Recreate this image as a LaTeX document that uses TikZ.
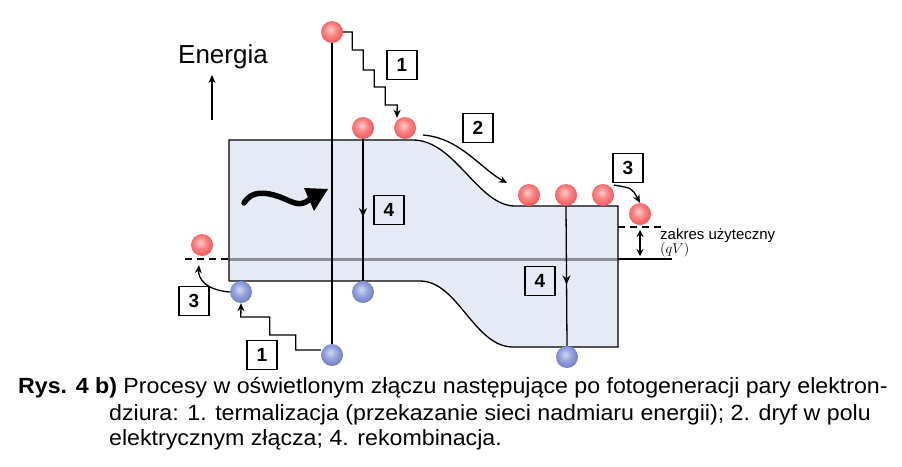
\documentclass[tikz,border=0pt]{standalone}
\usepackage{fontspec}
\setmainfont{Liberation Sans}
\usetikzlibrary{arrows.meta,calc,decorations.markings,shadings}
\definecolor{bandfill}{RGB}{230,234,246}
\definecolor{fermi}{RGB}{140,142,152}
\pgfdeclareradialshading{redsph}{\pgfpoint{-4bp}{6bp}}{%
  color(0bp)=(rgb,255:red,255;green,205;blue,205);
  color(14bp)=(rgb,255:red,250;green,130;blue,130);
  color(34bp)=(rgb,255:red,238;green,72;blue,72);
  color(52bp)=(rgb,255:red,205;green,40;blue,45);
  color(70bp)=(rgb,255:red,190;green,35;blue,40)}
\pgfdeclareradialshading{bluesph}{\pgfpoint{-4bp}{6bp}}{%
  color(0bp)=(rgb,255:red,210;green,218;blue,242);
  color(14bp)=(rgb,255:red,150;green,162;blue,220);
  color(34bp)=(rgb,255:red,98;green,110;blue,188);
  color(52bp)=(rgb,255:red,62;green,72;blue,150);
  color(70bp)=(rgb,255:red,55;green,65;blue,140)}
\tikzset{
  tip/.style={-{Stealth[length=8pt,width=7pt]}},
  electron/.style={circle,minimum size=22pt,inner sep=0pt,shading=redsph},
  hole/.style={circle,minimum size=22pt,inner sep=0pt,shading=bluesph},
  numbox/.style={draw,line width=1.3pt,minimum width=30pt,minimum height=29pt,inner sep=0pt,font=\fontsize{19}{19}\selectfont\bfseries},
  thin/.style={line width=1.3pt},
  dashline/.style={line width=1.3pt,dash pattern=on 7pt off 5pt},
  capt/.style={anchor=base west,inner sep=0pt,font=\fontsize{22}{22}\selectfont},
  midarrow/.style={decoration={markings,mark=at position #1 with {\arrow{Stealth[length=9pt,width=8pt]}}},postaction={decorate}}
}
\begin{document}
\begin{tikzpicture}[x=1pt,y=-1pt]
\useasboundingbox (0,0) rectangle (902,466);
% band
\fill[bandfill] (229,140) -- (413,140) .. controls (455,140) and (478,206) .. (515,206) -- (618,206) -- (618,347) -- (513,347) .. controls (474,347) and (458,281) .. (420,281) -- (229,281) -- cycle;
\draw[fermi,line width=3pt] (229,259) -- (618,259);
\draw[thin] (229,281) -- (229,140) -- (413,140) .. controls (455,140) and (478,206) .. (515,206) -- (618,206) -- (618,347) -- (513,347) .. controls (474,347) and (458,281) .. (420,281) -- (229,281);
\draw[dashline] (185,259) -- (229,259);
\draw[dashline] (618,227) -- (664,227);
\draw[thin] (618,259) -- (672,259);
% energy
\node[font=\fontsize{26}{26}\selectfont] (en) at (223,57) {Energia};
\coordinate (ea) at (212,120);
\coordinate (eb) at (212,75);
\draw[thin,tip] (ea) -- (eb);
% particles
\node[electron] (eTop) at (332,32) {};
\node[electron] (e2) at (363,128) {};
\node[electron] (e3) at (405,128) {};
\node[electron] (r1) at (529,195) {};
\node[electron] (r2) at (566,195) {};
\node[electron] (r3) at (603,195) {};
\node[electron] (rF) at (640,214) {};
\node[electron] (eL) at (202,245) {};
\node[hole] (h1) at (241,292) {};
\node[hole] (h2) at (363,292) {};
\node[hole] (hB) at (332,355) {};
\node[hole] (hR) at (567,357) {};
% verticals
\draw[thin] (eTop.south) -- (hB.north);
\draw[thin,midarrow=0.55] (e2.south) -- (h2.north);
\draw[thin,midarrow=0.56] (r2.south) -- (hR.north);
% staircases
\draw[thin,tip] (eTop.east) -- ++(9,0) -- ++(0,18) -- ++(11,0) -- ++(0,20) -- ++(11,0) -- ++(0,17) -- ++(11,0) -- ++(0,18) -- ++(12,0) -- ($(e3.north)+(-8,1)$);
\draw[thin,tip] (hB.west) ++(0,-5) -- ++(-25,0) -- ++(0,-15) -- ++(-26,0) -- ++(0,-18) -- ++(-29,0) -- (h1.south);
% drift arrow
\coordinate (d1) at (423,135);
\coordinate (d2) at (507,183);
\draw[thin,tip] (d1) .. controls (460,138) and (480,168) .. (d2);
% arrows 3
\draw[thin,tip] (r3.north east) ++(3,-2) .. controls (632,188) .. (rF.north);
\draw[thin,tip] (h1.west) .. controls (205,290) and (198,278) .. ($(eL.south)+(-3,9)$);
% photon
\draw[line width=5.5pt,line cap=round] (244,203) .. controls (252,190) and (266,192) .. (280,197) .. controls (293,202) and (300,208) .. (310,199);
\fill (304,188) -- (328,189) -- (314,211) -- cycle;
% number boxes
\node[numbox,fill=white] (b1t) at (402,65) {1};
\node[numbox,fill=white] (b2) at (478,128) {2};
\node[numbox,fill=white] (b3r) at (628,168) {3};
\node[numbox,fill=bandfill] (b4l) at (389,210) {4};
\node[numbox,fill=bandfill] (b4r) at (540,281) {4};
\node[numbox,fill=white] (b3l) at (194,301) {3};
\node[numbox,fill=white] (b1b) at (262,355) {1};
% useful range
\coordinate (u1) at (640,230);
\coordinate (u2) at (640,256);
\draw[thin,{Stealth[length=7pt,width=7pt]}-{Stealth[length=7pt,width=7pt]}] (u1) -- (u2);
\node[anchor=base west,inner sep=0pt,font=\fontsize{15}{15}\selectfont] (zk) at (660,239) {zakres użyteczny};
\node[anchor=base west,inner sep=0pt,font=\fontsize{15}{15}\selectfont] (qv) at (660,253) {$(qV)$};
% caption
\node[capt] (c1) at (18,393) {\scalebox{1.054}[1]{\textbf{Rys. 4 b)} Procesy w oświetlonym złączu następujące po fotogeneracji pary elektron-}};
\node[capt] (c2) at (109,420) {\scalebox{1.054}[1]{dziura: 1. termalizacja (przekazanie sieci nadmiaru energii); 2. dryf w polu}};
\node[capt] (c3) at (109,445) {\scalebox{1.054}[1]{elektrycznym złącza; 4. rekombinacja.}};
\end{tikzpicture}
\end{document}
